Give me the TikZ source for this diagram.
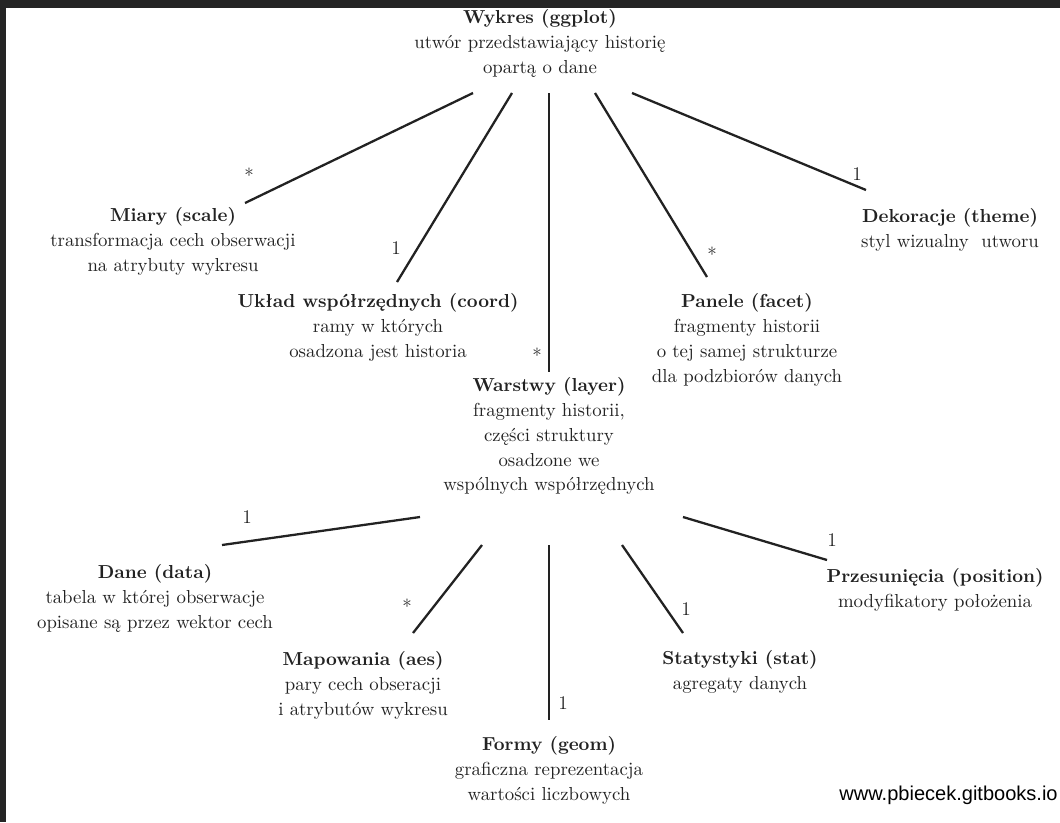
\documentclass[tikz,border=0pt]{standalone}
\usepackage{fontspec}
\newfontfamily\urlfont{Liberation Sans}
\usepackage{xcolor}
\usetikzlibrary{calc}
\definecolor{ramka}{HTML}{252525}
\definecolor{tekst}{HTML}{222222}

\begin{document}
\begin{tikzpicture}[x=0.02cm, y=-0.02cm,
	opis/.style={align=center, inner sep=0pt, text=tekst, font=\fontsize{10.7}{14.2}\selectfont},
	krotnosc/.style={inner sep=0pt, text=tekst, font=\fontsize{11}{12}\selectfont},
	linia/.style={draw=tekst, line width=1.3pt}]

	\useasboundingbox (0,0) rectangle (1060,822);
	\fill[white] (0,0) rectangle (1060,822);
	\fill[ramka] (0,0) rectangle (1060,8);
	\fill[ramka] (0,0) rectangle (6,822);

	\node[opis] (wykres) at (540,43) {\textbf{Wykres (ggplot)}\\utwór przedstawiający historię\\opartą o dane};
	\node[opis] (miary) at (173,241) {\textbf{Miary (scale)}\\transformacja cech obserwacji\\na atrybuty wykresu};
	\node[opis] (uklad) at (378,327) {\textbf{Układ współrzędnych (coord)}\\ramy w których\\osadzona jest historia};
	\node[opis] (warstwy) at (549,436) {\textbf{Warstwy (layer)}\\fragmenty historii,\\części struktury\\osadzone we\\wspólnych współrzędnych};
	\node[opis] (panele) at (747,340) {\textbf{Panele (facet)}\\fragmenty historii\\o tej samej strukturze\\dla podzbiorów danych};
	\node[opis] (dekoracje) at (950,230) {\textbf{Dekoracje (theme)}\\styl wizualny~ utworu};

	\node[opis] (dane) at (155,598) {\textbf{Dane (data)}\\tabela w której obserwacje\\opisane są przez wektor cech};
	\node[opis] (mapowania) at (363,685) {\textbf{Mapowania (aes)}\\pary cech obseracji\\i atrybutów wykresu};
	\node[opis] (formy) at (549,770) {\textbf{Formy (geom)}\\graficzna reprezentacja\\wartości liczbowych};
	\node[opis] (statystyki) at (740,672) {\textbf{Statystyki (stat)}\\agregaty danych};
	\node[opis] (przesuniecia) at (935,590) {\textbf{Przesunięcia (position)}\\modyfikatory położenia};

	\node[anchor=east, inner sep=0pt, text=black, font=\urlfont\fontsize{11.4}{13}\selectfont] (adres) at (1058,795) {www.pbiecek.gitbooks.io};

	\draw[linia] ($(wykres)+(-67,50)$) -- ($(miary)+(72,-38)$);
	\draw[linia] ($(wykres)+(-28,50)$) -- ($(uklad)+(19,-45)$);
	\draw[linia] ($(wykres)+(9,50)$) -- ($(warstwy)+(0,-64)$);
	\draw[linia] ($(wykres)+(55,50)$) -- ($(panele)+(-40,-63)$);
	\draw[linia] ($(wykres)+(92,50)$) -- ($(dekoracje)+(-84,-40)$);

	\draw[linia] ($(warstwy)+(-129,81)$) -- ($(dane)+(67,-53)$);
	\draw[linia] ($(warstwy)+(-67,109)$) -- ($(mapowania)+(50,-52)$);
	\draw[linia] ($(warstwy)+(0,109)$) -- ($(formy)+(0,-50)$);
	\draw[linia] ($(warstwy)+(73,109)$) -- ($(statystyki)+(-57,-39)$);
	\draw[linia] ($(warstwy)+(134,81)$) -- ($(przesuniecia)+(-108,-30)$);

	\node[krotnosc] (k-miary) at ($(miary)+(76,-66)$) {*};
	\node[krotnosc] (k-uklad) at ($(uklad)+(18,-79)$) {1};
	\node[krotnosc] (k-warstwy) at ($(warstwy)+(-12,-81)$) {*};
	\node[krotnosc] (k-panele) at ($(panele)+(-35,-86)$) {*};
	\node[krotnosc] (k-dekoracje) at ($(dekoracje)+(-93,-56)$) {1};

	\node[krotnosc] (k-dane) at ($(dane)+(92,-81)$) {1};
	\node[krotnosc] (k-mapowania) at ($(mapowania)+(44,-79)$) {*};
	\node[krotnosc] (k-formy) at ($(formy)+(14,-67)$) {1};
	\node[krotnosc] (k-statystyki) at ($(statystyki)+(-54,-63)$) {1};
	\node[krotnosc] (k-przesuniecia) at ($(przesuniecia)+(-103,-50)$) {1};
\end{tikzpicture}
\end{document}
